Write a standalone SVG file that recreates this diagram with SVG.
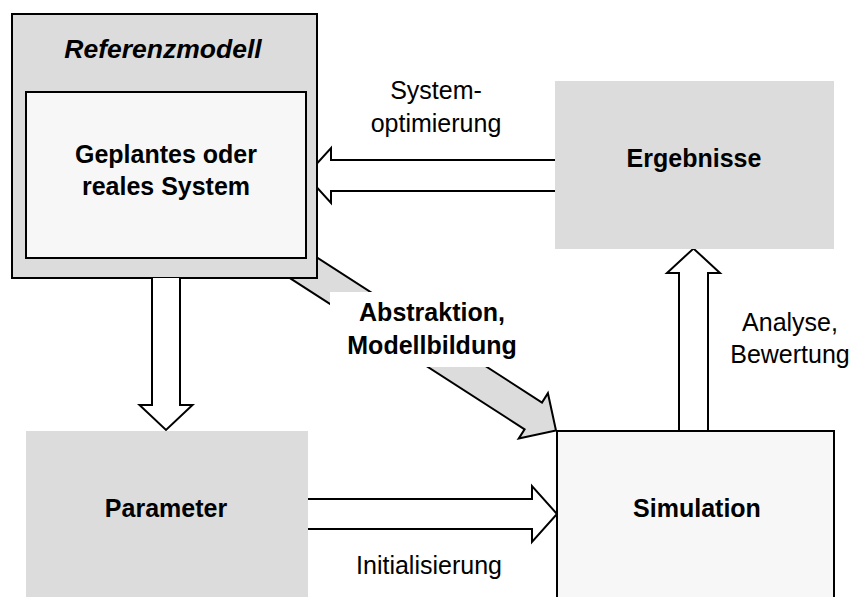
<svg xmlns="http://www.w3.org/2000/svg" width="854" height="597" viewBox="0 0 854 597">
<style>
.t{font-family:"Liberation Sans",Arial,Helvetica,sans-serif;font-size:25px;fill:#000;text-anchor:middle}
.b{font-weight:bold}
.i{font-style:italic;font-size:26.5px}
.arr{fill:#fff;stroke:#000;stroke-width:2;stroke-linejoin:miter}
.gray{fill:#dcdcdc}
.light{fill:#f7f7f7;stroke:#000;stroke-width:2}
</style>
<rect width="854" height="597" fill="#fff"/>
<g id="connectors">
<path id="abstraktion" d="M259.7,220.6 L542,402.5 L547.9,393.2 L556,430.5 L518.7,438.6 L524.6,429.3 L242.3,247.4 Z" fill="#dcdcdc" stroke="#000" stroke-width="2"/>
<rect x="330" y="292" width="200" height="75" fill="#fff"/>
<text class="t b" x="432" y="321">Abstraktion,</text>
<text class="t b" x="432" y="354">Modellbildung</text>
<path class="arr" d="M555,160 H331 V148 L306,175.5 L331,203 V191 H555"/>
<text class="t" x="436" y="99">System-</text>
<text class="t" x="436" y="132">optimierung</text>
<path class="arr" d="M308,499 H532 V486 L557,514 L532,542 V529 H308"/>
<text class="t" x="429" y="574">Initialisierung</text>
<path class="arr" d="M679,431 V273 H667 L693.5,248.5 L720,273 H708 V431"/>
<text class="t" x="790" y="331">Analyse,</text>
<text class="t" x="790" y="363">Bewertung</text>
</g>
<g id="referenzmodell">
<rect x="12" y="14" width="305" height="264" fill="#dcdcdc" stroke="#000" stroke-width="2"/>
<text class="t b i" x="163" y="58">Referenzmodell</text>
</g>
<g id="system">
<rect class="light" x="26" y="92" width="280" height="166"/>
<text class="t b" x="166" y="163">Geplantes oder</text>
<text class="t b" x="166" y="195">reales System</text>
</g>
<path class="arr" d="M152,278 V405 H139.5 L166,430 L192.5,405 H180 V278"/>
<g id="ergebnisse">
<rect class="gray" x="555" y="81" width="279" height="168"/>
<text class="t b" x="694" y="167">Ergebnisse</text>
</g>
<g id="parameter">
<rect class="gray" x="26" y="431" width="282" height="166"/>
<text class="t b" x="166" y="517">Parameter</text>
</g>
<g id="simulation">
<rect class="light" x="557" y="431" width="277" height="180"/>
<text class="t b" x="697" y="517">Simulation</text>
</g>
</svg>
